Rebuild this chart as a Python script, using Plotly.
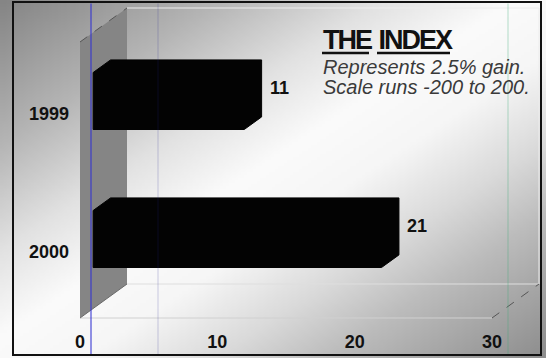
import base64, struct, zlib
import numpy as np
import plotly.graph_objects as go

# ---------------- data ----------------
categories = ["1999", "2000"]
values = [11, 21]
x_ticks = [0, 10, 20, 30]
title_words = ["THE", "INDEX"]
subtitle_lines = ["Represents 2.5% gain.", "Scale runs -200 to 200."]

# ---------------- geometry (pixels -> axis units) ----------------
W, H = 546, 358
PX_PER_UNIT = (492 - 80) / 30.0        # x scale
ZERO_PX = 80                            # x=0 on front floor
CAT_PX0, CAT_STEP = 101, 138            # category centres (front face)

x_range = [-ZERO_PX / PX_PER_UNIT, (W - ZERO_PX) / PX_PER_UNIT]
y_range = [(H - CAT_PX0) / CAT_STEP, (0 - CAT_PX0) / CAT_STEP]   # reversed

def xu(px):
    return px / PX_PER_UNIT
def yu(px):
    return px / CAT_STEP

floor_front = (318 - CAT_PX0) / CAT_STEP
wall_top = (42 - CAT_PX0) / CAT_STEP
Dx, Dy = xu(47), yu(-34)               # full depth vector
xa = 0.28 * Dx                          # bar front offset
bdx, bdy = 0.37 * Dx, 0.37 * Dy         # bar depth
bh = yu(28.5)                           # bar half height
x_end = x_ticks[-1]

# ---------------- background gradient image ----------------
gw, gh = 182, 120
xs = np.linspace(0, 1, gw)
ys = np.linspace(0, 1, gh)
T = (xs[None, :] + ys[:, None]) / 2.0
stops_t = [0.0, 0.2, 0.35, 0.47, 0.58, 0.7, 0.8, 1.0]
stops_g = [0x85, 0xb5, 0xe2, 0xfb, 0xf6, 0xda, 0xbd, 0x8e]
G = np.interp(T, stops_t, stops_g).astype(np.uint8)
raw = b"".join(b"\x00" + np.repeat(G[r], 3).tobytes() for r in range(gh))
def chunk(tag, data):
    return struct.pack(">I", len(data)) + tag + data + struct.pack(">I", zlib.crc32(tag + data) & 0xffffffff)
png = (b"\x89PNG\r\n\x1a\n" + chunk(b"IHDR", struct.pack(">IIBBBBB", gw, gh, 8, 2, 0, 0, 0))
       + chunk(b"IDAT", zlib.compress(raw, 9)) + chunk(b"IEND", b""))
bg_src = "data:image/png;base64," + base64.b64encode(png).decode()

fig = go.Figure()

# left wall
fig.add_trace(go.Scatter(
    x=[0, 0, Dx, Dx, 0], y=[floor_front, wall_top, wall_top + Dy, floor_front + Dy, floor_front],
    mode="lines", fill="toself", fillcolor="#858585", line=dict(width=0),
    hoverinfo="skip", showlegend=False))

# floor / back-wall frame lines
frame_lines = [
    ([Dx, x_end + Dx], [floor_front + Dy, floor_front + Dy], "#dedede", "solid"),
    ([0, x_end], [floor_front, floor_front], "#d0d0d0", "solid"),
    ([Dx, x_end + Dx], [wall_top + Dy, wall_top + Dy], "#ececec", "solid"),
    ([x_end + Dx, x_end + Dx], [wall_top + Dy, floor_front + Dy], "#ececec", "solid"),
    ([0, Dx], [wall_top, wall_top + Dy], "#555555", "dash"),
    ([x_end, x_end + Dx], [floor_front, floor_front + Dy], "#555555", "dash"),
    ([0, Dx], [floor_front, floor_front + Dy], "#6a6a6a", "solid"),
]
for lx, ly, c, d in frame_lines:
    fig.add_trace(go.Scatter(x=lx, y=ly, mode="lines", line=dict(color=c, width=1, dash=d),
                             hoverinfo="skip", showlegend=False))

# bars (3D black prisms)
for i, (cat, v) in enumerate(zip(categories, values)):
    x0, x1 = xa, v + xa
    bx = [x0, x1, x1 + bdx, x1 + bdx, x0 + bdx, x0, x0]
    by = [i + bh, i + bh, i + bh + bdy, i - bh + bdy, i - bh + bdy, i - bh, i + bh]
    fig.add_trace(go.Scatter(x=bx, y=by, mode="lines", fill="toself", fillcolor="#030303",
                             line=dict(color="#030303", width=1), hoverinfo="skip", showlegend=False))
    fig.add_annotation(x=x1 + bdx, y=i + bdy, text=f"<b>{v}</b>", showarrow=False, xanchor="left",
                       xshift=6, font=dict(family="Liberation Sans, Arial", size=18, color="#111111"))
    fig.add_annotation(x=-0.65, y=i, text=f"<b>{cat}</b>", showarrow=False, xanchor="right",
                       yshift=-13, font=dict(family="Liberation Sans, Arial", size=18, color="#111111"))

# title and subtitle
def px2paper(xp, yp):
    return xp / W, 1 - yp / H
tx, ty = px2paper(321, 40)
title_html = " ".join(f'<span style="letter-spacing:-2px">{w}</span>' for w in title_words)
fig.add_annotation(xref="paper", yref="paper", x=tx, y=ty, xanchor="left", yanchor="middle",
                   text=f"<b>{title_html}</b>", showarrow=False,
                   font=dict(family="Liberation Sans, Arial", size=27, color="#111111"))
for k, line in enumerate(subtitle_lines):
    sx, sy = px2paper(321, 67 + 19.5 * k)
    fig.add_annotation(xref="paper", yref="paper", x=sx, y=sy, xanchor="left", yanchor="middle",
                       text=f"<i>{line}</i>", showarrow=False,
                       font=dict(family="Liberation Sans, Arial", size=20, color="#3a3a3a"))

shapes = []
# underlines
for (u0, u1) in [(322, 369), (377, 450)]:
    a0, b0 = px2paper(u0, 53)
    a1, _ = px2paper(u1, 53)
    shapes.append(dict(type="line", xref="paper", yref="paper", x0=a0, x1=a1, y0=b0, y1=b0,
                       line=dict(color="#111111", width=2.5)))
# scan artefact lines
for (xp, col) in [(91, "rgba(50,50,210,0.7)"), (158, "rgba(40,40,150,0.15)"), (508, "rgba(60,170,120,0.25)")]:
    a, _ = px2paper(xp, 0)
    shapes.append(dict(type="line", xref="paper", yref="paper", x0=a, x1=a, y0=0.01, y1=0.99,
                       line=dict(color=col, width=1.5)))
# outer frame
fx0, fy1 = px2paper(13, 2)
fx1, fy0 = px2paper(541, 355)
shapes.append(dict(type="rect", xref="paper", yref="paper", x0=fx0, x1=fx1, y0=fy0, y1=fy1,
                   line=dict(color="#111111", width=2), fillcolor="rgba(0,0,0,0)"))

fig.update_layout(
    width=W, height=H, margin=dict(l=0, r=0, t=0, b=0),
    paper_bgcolor="white", plot_bgcolor="rgba(0,0,0,0)",
    showlegend=False, shapes=shapes,
    images=[dict(source=bg_src, xref="paper", yref="paper", x=0, y=1, sizex=1, sizey=1,
                 sizing="stretch", layer="below")],
    xaxis=dict(range=x_range, showgrid=False, zeroline=False, showline=False,
               tickvals=x_ticks, ticktext=[f"<b>{t}</b>" for t in x_ticks], ticks="",
               tickfont=dict(family="Liberation Sans, Arial", size=18, color="#111111"),
               anchor="free", position=(H - 318) / H, ticklabelstandoff=11),
    yaxis=dict(range=y_range, visible=False),
)
fig.write_html("out.html")
